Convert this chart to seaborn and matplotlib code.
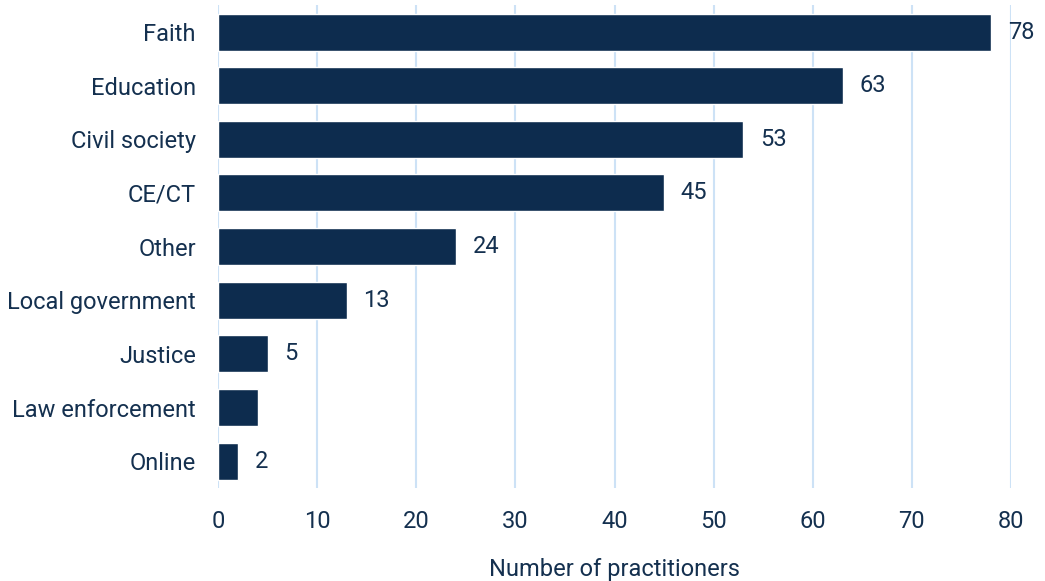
import matplotlib
matplotlib.use("Agg")
import matplotlib.pyplot as plt
import seaborn as sns
import pandas as pd

# data
categories = ["Faith", "Education", "Civil society", "CE/CT", "Other",
              "Local government", "Justice", "Law enforcement", "Online"]
values = [78, 63, 53, 45, 24, 13, 5, 4, 2]
shown_labels = ["78", "63", "53", "45", "24", "13", "5", "", "2"]
x_ticks = [0, 10, 20, 30, 40, 50, 60, 70, 80]

navy = "#0d2c4e"
text_col = "#14304f"
grid_col = "#cde2f6"

sns.set_theme(style="white")
plt.rcParams["font.family"] = ["Liberation Sans Narrow", "Roboto", "DejaVu Sans"]

df = pd.DataFrame({"category": categories, "value": values})

fig = plt.figure(figsize=(10.45, 5.81), dpi=100)
ax = fig.add_axes([0.2086, 0.160, 0.7589, 0.831])

sns.barplot(data=df, x="value", y="category", color=navy, width=0.69,
            saturation=1, ax=ax, zorder=3)

# value labels
for patch, lab in zip(ax.patches, shown_labels):
    if lab:
        ax.annotate(lab, (patch.get_width(), patch.get_y() + patch.get_height() / 2),
                    xytext=(12, 0), textcoords="offset points",
                    ha="left", va="center", fontsize=17, color=text_col)

ax.set_xlim(0, 80)
ax.set_ylim(8.5, -0.5)
ax.set_xticks(x_ticks)
ax.xaxis.grid(True, color=grid_col, linewidth=1.5, zorder=0)
ax.yaxis.grid(False)
for s in ax.spines.values():
    s.set_visible(False)

ax.tick_params(axis="x", length=0, pad=16, labelsize=17, labelcolor=text_col)
ax.tick_params(axis="y", length=0, pad=16, labelsize=17, labelcolor=text_col)
ax.set_ylabel("")
ax.set_xlabel("Number of practitioners", fontsize=17, color=text_col, labelpad=18)

fig.savefig("out.png", dpi=100)
